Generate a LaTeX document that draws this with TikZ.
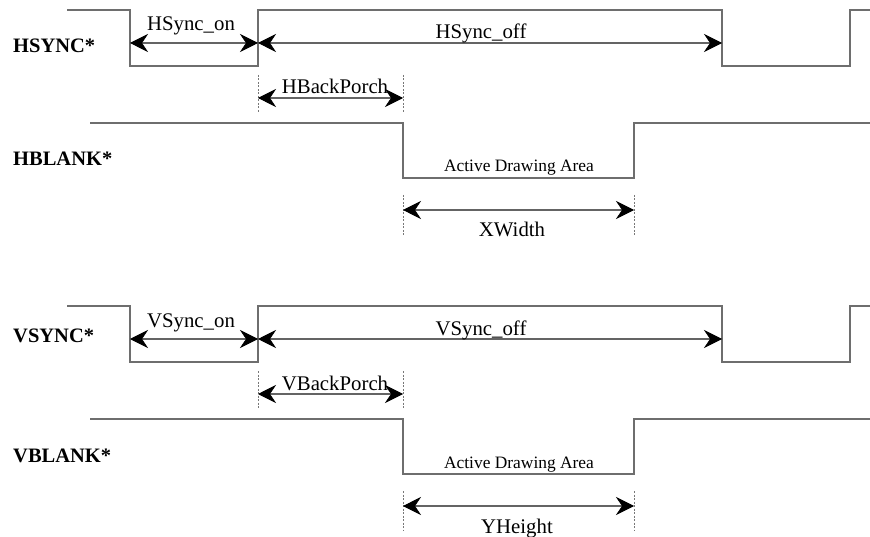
\documentclass[tikz,border=0pt]{standalone}
\usepackage{fontspec}
\setmainfont{Liberation Serif}
\usetikzlibrary{arrows.meta}
\definecolor{wavegray}{RGB}{110,110,110}
\definecolor{shaftgray}{RGB}{100,100,100}
\definecolor{tickgray}{RGB}{120,120,120}
\begin{document}
\begin{tikzpicture}[x=1pt,y=-1pt,
  wave/.style={line width=1.8pt, draw=wavegray, line join=miter},
  tip/.tip={Stealth[length=18pt,width=18pt,inset=6pt,black,line width=0.6pt]},
  dimline/.style={line width=1.5pt, draw=shaftgray, tip-tip},
  ticks/.style={line width=0.9pt, draw=tickgray, dash pattern=on 2pt off 1.5pt},
  sig/.style={inner sep=0pt, anchor=base west, font=\fontsize{20.5}{24}\selectfont\bfseries},
  lbl/.style={inner sep=0pt, anchor=base, font=\fontsize{20.8}{24}\selectfont},
  area/.style={inner sep=0pt, anchor=base, font=\fontsize{17.4}{20}\selectfont}]
\useasboundingbox (0,0) rectangle (870,537);

% one block per timing group: horizontal (H) and vertical (V)
\foreach \p/\dy/\sy/\ext/\extx in {H/0/53/XWidth/512, V/296/46/YHeight/517}{
  % sync waveform corners
  \coordinate (\p s0) at (67,10+\dy);
  \coordinate (\p s1) at (130,10+\dy);
  \coordinate (\p s2) at (130,66+\dy);
  \coordinate (\p s3) at (258,66+\dy);
  \coordinate (\p s4) at (258,10+\dy);
  \coordinate (\p s5) at (722,10+\dy);
  \coordinate (\p s6) at (722,66+\dy);
  \coordinate (\p s7) at (850,66+\dy);
  \coordinate (\p s8) at (850,10+\dy);
  \coordinate (\p s9) at (870,10+\dy);
  \draw[wave] (\p s0) -- (\p s1) -- (\p s2) -- (\p s3) -- (\p s4) -- (\p s5)
              -- (\p s6) -- (\p s7) -- (\p s8) -- (\p s9);

  % blank waveform corners
  \coordinate (\p b0) at (90,123+\dy);
  \coordinate (\p b1) at (403,123+\dy);
  \coordinate (\p b2) at (403,178+\dy);
  \coordinate (\p b3) at (634,178+\dy);
  \coordinate (\p b4) at (634,123+\dy);
  \coordinate (\p b5) at (870,123+\dy);
  \draw[wave] (\p b0) -- (\p b1) -- (\p b2) -- (\p b3) -- (\p b4) -- (\p b5);

  % signal names
  \node[sig] (\p syncname) at (13,\sy+\dy) {\p SYNC*};
  \node[sig] (\p blankname) at (13,166+\dy) {\p BLANK*};

  % sync on / off spans
  \coordinate (\p on0) at (130,43+\dy);
  \coordinate (\p on1) at (258,43+\dy);
  \coordinate (\p off1) at (722,43+\dy);
  \draw[dimline] (\p on0) -- (\p on1);
  \draw[dimline] (\p on1) -- (\p off1);
  \node[lbl] (\p onlbl) at (191,31+\dy) {\p Sync\_on};
  \node[lbl] (\p offlbl) at (481,39+\dy) {\p Sync\_off};

  % back porch span
  \coordinate (\p bpA) at (258,75+\dy);
  \coordinate (\p bpB) at (258,113+\dy);
  \coordinate (\p bpC) at (403,75+\dy);
  \coordinate (\p bpD) at (403,113+\dy);
  \draw[ticks] (\p bpA) -- (\p bpB);
  \draw[ticks] (\p bpC) -- (\p bpD);
  \coordinate (\p bp0) at (258,98+\dy);
  \coordinate (\p bp1) at (403,98+\dy);
  \draw[dimline] (\p bp0) -- (\p bp1);
  \node[lbl] (\p bplbl) at (335,94+\dy) {\p BackPorch};

  % active area and its extent
  \node[area] (\p arealbl) at (519,172+\dy) {Active Drawing Area};
  \coordinate (\p exA) at (403,195+\dy);
  \coordinate (\p exB) at (403,235+\dy);
  \coordinate (\p exC) at (634,195+\dy);
  \coordinate (\p exD) at (634,235+\dy);
  \draw[ticks] (\p exA) -- (\p exB);
  \draw[ticks] (\p exC) -- (\p exD);
  \coordinate (\p ex0) at (403,210+\dy);
  \coordinate (\p ex1) at (634,210+\dy);
  \draw[dimline] (\p ex0) -- (\p ex1);
  \node[lbl] (\p exlbl) at (\extx,237+\dy) {\ext};
}
\end{tikzpicture}
\end{document}
